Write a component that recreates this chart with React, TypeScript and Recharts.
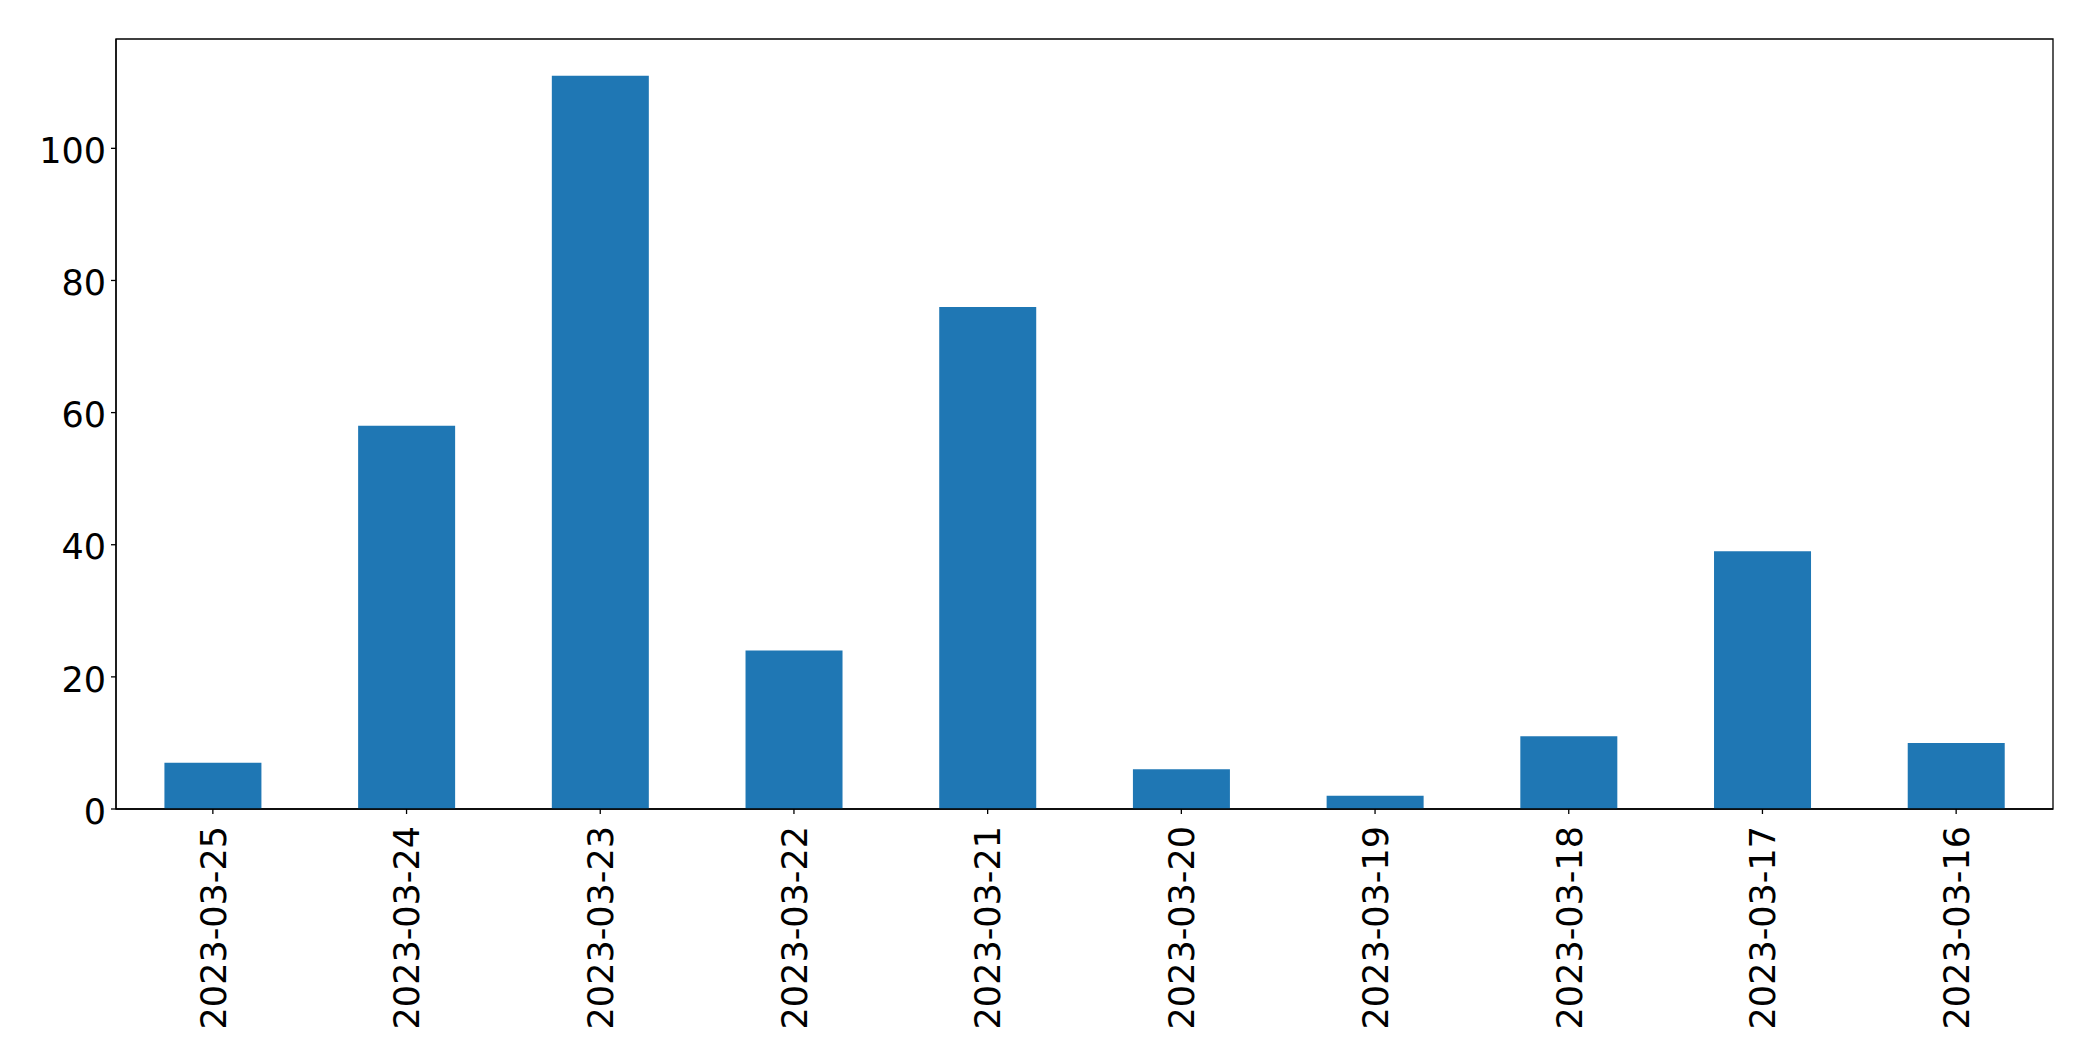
import React from 'react';
import { BarChart, Bar, XAxis, YAxis, ReferenceArea } from 'recharts';

const dates = [
  '2023-03-25',
  '2023-03-24',
  '2023-03-23',
  '2023-03-22',
  '2023-03-21',
  '2023-03-20',
  '2023-03-19',
  '2023-03-18',
  '2023-03-17',
  '2023-03-16',
];
const counts = [7, 58, 111, 24, 76, 6, 2, 11, 39, 10];
const yTicks = [0, 20, 40, 60, 80, 100];
const yMax = 116.55;

const data = dates.map((d, i) => ({ date: d, count: counts[i] }));

const FONT = 'DejaVu Sans, sans-serif';
const FS = 35;

function XTick(props: any) {
  const { x, y, payload } = props;
  return (
    <g transform={`translate(${x},${y}) rotate(-90)`}>
      <text x={0} y={FS * 0.3645} textAnchor="end" fontFamily={FONT} fontSize={FS} fill="#000">
        {payload.value}
      </text>
    </g>
  );
}

function YTick(props: any) {
  const { x, y, payload } = props;
  return (
    <text x={x} y={y + FS * 0.3645 + 2} textAnchor="end" fontFamily={FONT} fontSize={FS} fill="#000">
      {payload.value}
    </text>
  );
}

export default function App() {
  return (
    <div style={{ position: 'absolute', left: 0, top: 0, width: 2093, height: 1061, background: '#fff' }}>
      <BarChart
        width={2093}
        height={1061}
        data={data}
        margin={{ top: 39, right: 40, bottom: 0, left: 0 }}
        barCategoryGap="25%"
      >
        <XAxis
          dataKey="date"
          height={252}
          interval={0}
          tick={<XTick />}
          tickSize={5}
          tickMargin={12}
          axisLine={{ stroke: '#000', strokeWidth: 1.3 }}
          tickLine={{ stroke: '#000', strokeWidth: 1.3 }}
        />
        <YAxis
          width={116}
          domain={[0, yMax]}
          ticks={yTicks}
          allowDataOverflow
          tick={<YTick />}
          tickSize={5}
          tickMargin={5}
          axisLine={{ stroke: '#000', strokeWidth: 1.3 }}
          tickLine={{ stroke: '#000', strokeWidth: 1.3 }}
        />
        <Bar dataKey="count" fill="#1f77b4" isAnimationActive={false} />
        <ReferenceArea
          y1={0}
          y2={yMax}
          fill="none"
          fillOpacity={0}
          stroke="#000"
          strokeWidth={1.3}
          ifOverflow="visible"
        />
      </BarChart>
    </div>
  );
}
